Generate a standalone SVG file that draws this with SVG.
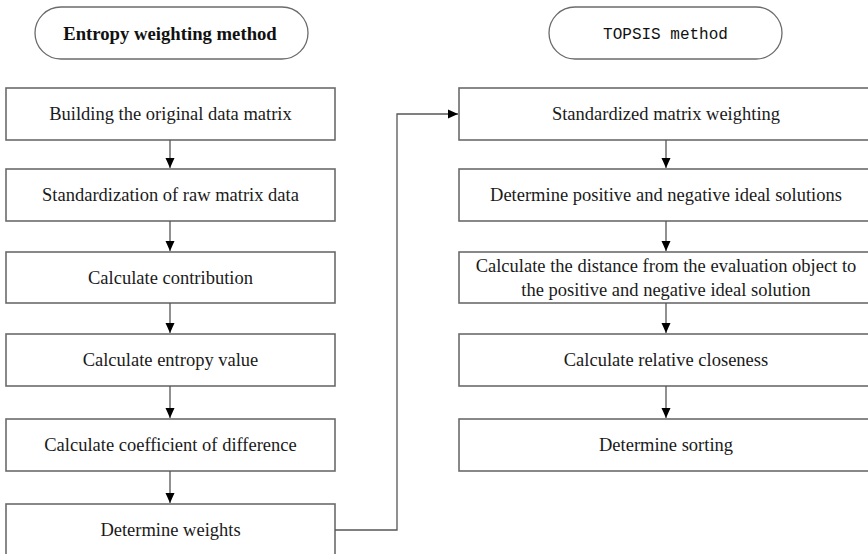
<svg xmlns="http://www.w3.org/2000/svg" width="868" height="554" viewBox="0 0 868 554">
  <defs>
    <marker id="arr" markerUnits="userSpaceOnUse" markerWidth="10" markerHeight="10" viewBox="0 0 10 10" refX="10" refY="5" orient="auto">
      <path d="M0,0.5 L10,5 L0,9.5 Z" fill="#000"/>
    </marker>
    <style>
      .box { fill: #fff; stroke: #6b6b6b; stroke-width: 1.6; }
      .term { fill: #fff; stroke: #6b6b6b; stroke-width: 1.3; }
      .lbl { font-family: "Liberation Serif", "Times New Roman", serif; font-size: 18.5px; fill: #1a1a1a; text-anchor: middle; }
      .ttl { font-family: "Liberation Serif", "Times New Roman", serif; font-size: 18.7px; font-weight: bold; fill: #111; text-anchor: middle; }
      .mono { font-family: "Liberation Mono", "Courier New", monospace; font-size: 16px; fill: #111; text-anchor: middle; }
      .conn { fill: none; stroke: #555; stroke-width: 1.3; marker-end: url(#arr); }
      .connplain { fill: none; stroke: #666; stroke-width: 1.5; }
    </style>
  </defs>
  <rect width="868" height="554" fill="#fff"/>

  <g id="title-entropy">
    <rect class="term" x="35" y="7" width="273" height="52" rx="26" ry="26"/>
    <text class="ttl" x="170" y="39.5">Entropy weighting method</text>
  </g>
  <g id="title-topsis">
    <rect class="term" x="549" y="7" width="233" height="52" rx="26" ry="26"/>
    <text class="mono" x="665.5" y="39">TOPSIS method</text>
  </g>

  <g id="L1">
    <rect class="box" x="6" y="88" width="329" height="52"/>
    <text class="lbl" x="170.5" y="120">Building the original data matrix</text>
  </g>
  <g id="L2">
    <rect class="box" x="6" y="169" width="329" height="52"/>
    <text class="lbl" x="170.5" y="201">Standardization of raw matrix data</text>
  </g>
  <g id="L3">
    <rect class="box" x="6" y="252" width="329" height="51"/>
    <text class="lbl" x="170.5" y="284">Calculate contribution</text>
  </g>
  <g id="L4">
    <rect class="box" x="6" y="334" width="329" height="52"/>
    <text class="lbl" x="170.5" y="366">Calculate entropy value</text>
  </g>
  <g id="L5">
    <rect class="box" x="6" y="419" width="329" height="52"/>
    <text class="lbl" x="170.5" y="451">Calculate coefficient of difference</text>
  </g>
  <g id="L6">
    <rect class="box" x="6" y="504" width="329" height="60"/>
    <text class="lbl" x="170.5" y="536">Determine weights</text>
  </g>

  <g id="R1">
    <rect class="box" x="459" y="88" width="420" height="52"/>
    <text class="lbl" x="666" y="120">Standardized matrix weighting</text>
  </g>
  <g id="R2">
    <rect class="box" x="459" y="169" width="420" height="52"/>
    <text class="lbl" x="666" y="201">Determine positive and negative ideal solutions</text>
  </g>
  <g id="R3">
    <rect class="box" x="459" y="252" width="420" height="51"/>
    <text class="lbl" x="666" y="271.5">Calculate the distance from the evaluation object to</text>
    <text class="lbl" x="666" y="295.5">the positive and negative ideal solution</text>
  </g>
  <g id="R4">
    <rect class="box" x="459" y="334" width="420" height="52"/>
    <text class="lbl" x="666" y="366">Calculate relative closeness</text>
  </g>
  <g id="R5">
    <rect class="box" x="459" y="419" width="420" height="52"/>
    <text class="lbl" x="666" y="451">Determine sorting</text>
  </g>

  <g id="connectors">
    <path class="conn" d="M170,140 V168"/>
    <path class="conn" d="M170,221 V251"/>
    <path class="conn" d="M170,303 V333"/>
    <path class="conn" d="M170,386 V418"/>
    <path class="conn" d="M170,471 V503"/>
    <path class="conn" d="M666,140 V168"/>
    <path class="conn" d="M666,221 V251"/>
    <path class="conn" d="M666,303 V333"/>
    <path class="conn" d="M666,386 V418"/>
    <path class="conn" d="M335,530 H397 V114 H458"/>
  </g>
</svg>
